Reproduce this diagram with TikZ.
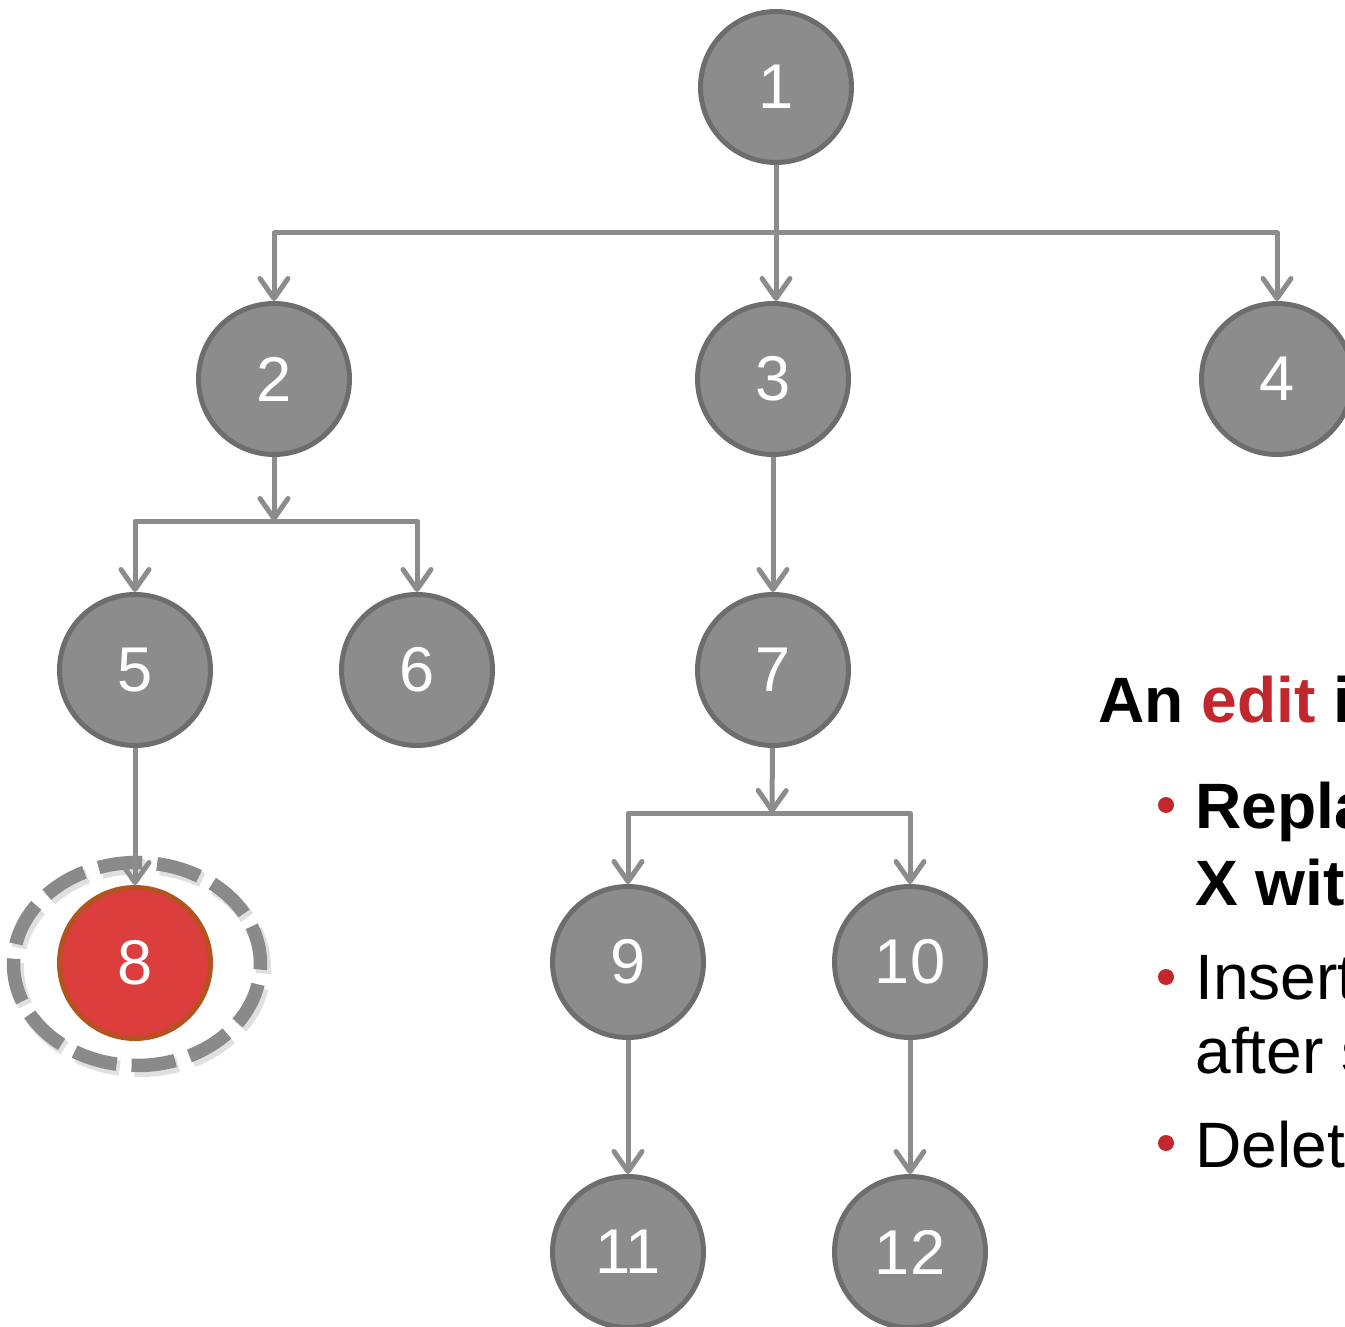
\documentclass[tikz,border=0pt]{standalone}
\usepackage{fontspec}
\setmainfont{Liberation Sans}
\usetikzlibrary{arrows.meta,shapes.geometric}
\definecolor{nodefill}{HTML}{8C8C8C}
\definecolor{nodeedge}{HTML}{6D6D6D}
\definecolor{linegray}{HTML}{8C8C8C}
\definecolor{ringgray}{HTML}{8A8A8A}
\definecolor{hotfill}{HTML}{DB3E3D}
\definecolor{hotedge}{HTML}{B4531F}
\definecolor{editred}{HTML}{C1272D}
\begin{document}
\begin{tikzpicture}[x=0.02cm,y=-0.02cm,
  treenode/.style={circle,draw=nodeedge,fill=nodefill,line width=0.1cm,
    minimum size=3.02cm,inner sep=0pt,text=white,font=\fontsize{36}{40}\selectfont},
  hotnode/.style={treenode,draw=hotedge,fill=hotfill},
  ringstyle/.style={ellipse,draw=ringgray,line width=0.27cm,minimum width=4.94cm,
    minimum height=4.06cm,inner sep=0pt,dash pattern=on 0.88cm off 0.3cm,dash phase=0.1cm},
  conn/.style={draw=linegray,line width=0.1cm,line join=round},
  arr/.style={conn,-{Straight Barb[length=0.4cm,width=0.56cm,round]}},
  body/.style={anchor=base west,inner sep=0pt,font=\fontsize{36.5}{40}\selectfont},
  bullet/.style={circle,fill=editred,minimum size=0.32cm,inner sep=0pt}]
\useasboundingbox (0,0) rectangle (1345,1327);
\clip (0,0) rectangle (1345,1327);

% highlight ring around node 8, with a soft shadow
\node[ringstyle,draw=black,opacity=0.12,line width=0.3cm] (ringshadow) at (140,968) {};
\node[ringstyle] (ring8) at (137,964) {};

% tree nodes
\node[treenode] (n1) at (776,87) {1};
\node[treenode] (n2) at (274,379) {2};
\node[treenode] (n3) at (773,379) {3};
\node[treenode] (n4) at (1277,379) {4};
\node[treenode] (n5) at (135,670) {5};
\node[treenode] (n6) at (417,670) {6};
\node[treenode] (n7) at (773,670) {7};
\node[hotnode]  (n8) at (135,963) {8};
\node[treenode] (n9) at (628,962) {9};
\node[treenode] (n10) at (910,962) {10};
\node[treenode] (n11) at (628,1252) {11};
\node[treenode] (n12) at (910,1252) {12};

% connectors
\coordinate (j1) at (776,233);
\draw[conn] (n1) -- (j1);
\draw[arr] (j1) -| (n2);
\draw[arr] (j1) -- (j1 |- n3.north);
\draw[arr] (j1) -| (n4);

\coordinate (j2) at (274,521);
\draw[arr] (n2) -- (j2);
\draw[arr] (j2) -| (n5);
\draw[arr] (j2) -| (n6);

\draw[arr] (n3) -- (n7);
\draw[arr] (n5) -- (n8);

\coordinate (j7) at (772,813);
\draw[arr] (n7) -- (j7);
\draw[arr] (j7) -| (n9);
\draw[arr] (j7) -| (n10);

\draw[arr] (n9) -- (n11);
\draw[arr] (n10) -- (n12);

% text on the right
\node[body] (title) at (1098,722) {\bfseries An \textcolor{editred}{edit} is};
\node[bullet] (b1) at (1166,805) {};
\node[body] (l1) at (1195,828) {\bfseries Replace};
\node[body] (l2) at (1195,905) {\bfseries X with};
\node[bullet] (b2) at (1166,977) {};
\node[body] (l3) at (1195,999) {Insert};
\node[body] (l4) at (1195,1073) {after some};
\node[bullet] (b3) at (1166,1143) {};
\node[body] (l5) at (1195,1167) {Delete};
\end{tikzpicture}
\end{document}
